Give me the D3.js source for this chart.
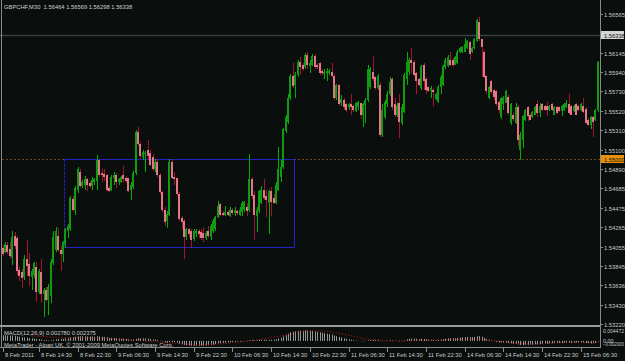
<!DOCTYPE html>
<html>
<head>
<meta charset="utf-8">
<script src="https://cdn.jsdelivr.net/npm/d3@7"></script>
<style>
  body { margin: 0; background: #0a0e0d; }
  svg { display: block; }
  text { font-family: "Liberation Sans", Arial, sans-serif; }
</style>
</head>
<body>
<div id="chart"></div>
<script>
// GBPCHF M30 bars (bar 0 = 8 Feb 07:00)
var opens = [
  1.5404,1.5400,1.5407,1.5403,1.5394,1.5417,1.5415,1.5380,1.5378,1.5373,
  1.5392,1.5387,1.5373,1.5375,1.5383,1.5356,1.5378,1.5354,1.5359,1.5348,
  1.5352,1.5388,1.5402,1.5417,1.5402,1.5397,1.5408,1.5422,1.5424,1.5457,
  1.5445,1.5467,1.5486,1.5471,1.5472,1.5478,1.5474,1.5471,1.5475,1.5476,
  1.5499,1.5485,1.5484,1.5483,1.5469,1.5467,1.5479,1.5483,1.5475,1.5475,
  1.5483,1.5480,1.5479,1.5467,1.5470,1.5485,1.5529,1.5516,1.5502,1.5505,
  1.5510,1.5506,1.5502,1.5489,1.5497,1.5483,1.5464,1.5445,1.5433,1.5440,
  1.5497,1.5481,1.5479,1.5462,1.5436,1.5433,1.5416,1.5424,1.5422,1.5414,
  1.5420,1.5422,1.5421,1.5420,1.5415,1.5422,1.5416,1.5422,1.5425,1.5437,
  1.5451,1.5442,1.5440,1.5443,1.5439,1.5445,1.5442,1.5444,1.5440,1.5443,
  1.5445,1.5448,1.5445,1.5478,1.5461,1.5438,1.5444,1.5453,1.5467,1.5460,
  1.5453,1.5465,1.5458,1.5453,1.5467,1.5481,1.5491,1.5530,1.5540,1.5566,
  1.5590,1.5580,1.5591,1.5605,1.5601,1.5599,1.5612,1.5600,1.5602,1.5611,
  1.5602,1.5604,1.5595,1.5592,1.5593,1.5593,1.5594,1.5590,1.5566,1.5580,
  1.5560,1.5564,1.5559,1.5556,1.5559,1.5557,1.5552,1.5556,1.5560,1.5548,
  1.5558,1.5564,1.5578,1.5594,1.5588,1.5577,1.5580,1.5526,1.5545,1.5559,
  1.5570,1.5586,1.5559,1.5547,1.5560,1.5539,1.5551,1.5586,1.5594,1.5607,
  1.5605,1.5593,1.5586,1.5577,1.5602,1.5586,1.5578,1.5573,1.5575,1.5565,
  1.5562,1.5578,1.5580,1.5599,1.5600,1.5607,1.5607,1.5602,1.5604,1.5615,
  1.5615,1.5616,1.5620,1.5626,1.5615,1.5620,1.5627,1.5648,1.5629,1.5616,
  1.5590,1.5566,1.5584,1.5575,1.5573,1.5562,1.5545,1.5559,1.5561,1.5567,
  1.5539,1.5548,1.5539,1.5556,1.5510,1.5521,1.5542,1.5556,1.5548,1.5545,
  1.5548,1.5559,1.5550,1.5559,1.5557,1.5557,1.5553,1.5559,1.5548,1.5556,
  1.5556,1.5552,1.5553,1.5556,1.5559,1.5557,1.5552,1.5559,1.5557,1.5553,
  1.5557,1.5554,1.5542,1.5537,1.5545,1.5542,1.5553
];
var highs = [
  1.5407,1.5410,1.5411,1.5411,1.5422,1.5421,1.5417,1.5383,1.5381,1.5396,
  1.5413,1.5399,1.5381,1.5389,1.5389,1.5381,1.5392,1.5361,1.5362,1.5365,
  1.5392,1.5422,1.5427,1.5426,1.5406,1.5412,1.5426,1.5430,1.5460,1.5460,
  1.5471,1.5491,1.5489,1.5477,1.5482,1.5480,1.5476,1.5481,1.5480,1.5504,
  1.5500,1.5489,1.5489,1.5484,1.5471,1.5483,1.5486,1.5485,1.5480,1.5482,
  1.5492,1.5482,1.5480,1.5475,1.5487,1.5531,1.5535,1.5518,1.5510,1.5509,
  1.5521,1.5510,1.5505,1.5500,1.5500,1.5485,1.5466,1.5448,1.5444,1.5500,
  1.5500,1.5486,1.5480,1.5464,1.5439,1.5435,1.5426,1.5426,1.5425,1.5424,
  1.5425,1.5424,1.5424,1.5427,1.5422,1.5428,1.5430,1.5435,1.5439,1.5455,
  1.5453,1.5444,1.5449,1.5445,1.5448,1.5447,1.5448,1.5445,1.5448,1.5455,
  1.5455,1.5453,1.5505,1.5481,1.5465,1.5448,1.5467,1.5471,1.5478,1.5467,
  1.5467,1.5470,1.5462,1.5475,1.5513,1.5499,1.5534,1.5547,1.5570,1.5592,
  1.5604,1.5594,1.5607,1.5610,1.5604,1.5614,1.5615,1.5607,1.5613,1.5613,
  1.5604,1.5605,1.5597,1.5597,1.5598,1.5597,1.5604,1.5592,1.5581,1.5581,
  1.5569,1.5566,1.5560,1.5560,1.5570,1.5558,1.5562,1.5563,1.5561,1.5561,
  1.5566,1.5601,1.5599,1.5611,1.5590,1.5592,1.5583,1.5559,1.5564,1.5573,
  1.5588,1.5589,1.5566,1.5560,1.5570,1.5559,1.5593,1.5615,1.5609,1.5620,
  1.5607,1.5594,1.5587,1.5602,1.5604,1.5588,1.5579,1.5579,1.5577,1.5571,
  1.5580,1.5591,1.5602,1.5609,1.5612,1.5616,1.5609,1.5611,1.5618,1.5621,
  1.5622,1.5631,1.5628,1.5627,1.5621,1.5631,1.5651,1.5653,1.5630,1.5618,
  1.5591,1.5579,1.5585,1.5576,1.5574,1.5564,1.5567,1.5568,1.5575,1.5569,
  1.5561,1.5550,1.5561,1.5558,1.5529,1.5548,1.5554,1.5557,1.5549,1.5552,
  1.5557,1.5564,1.5561,1.5560,1.5558,1.5562,1.5558,1.5560,1.5557,1.5557,
  1.5557,1.5558,1.5560,1.5564,1.5570,1.5558,1.5558,1.5560,1.5558,1.5560,
  1.5566,1.5556,1.5544,1.5546,1.5546,1.5554,1.5606
];
var lows = [
  1.5395,1.5399,1.5398,1.5392,1.5386,1.5403,1.5375,1.5368,1.5361,1.5370,
  1.5374,1.5363,1.5359,1.5372,1.5346,1.5354,1.5345,1.5330,1.5346,1.5332,
  1.5345,1.5386,1.5400,1.5400,1.5379,1.5389,1.5404,1.5415,1.5422,1.5443,
  1.5440,1.5463,1.5469,1.5469,1.5467,1.5465,1.5469,1.5467,1.5472,1.5467,
  1.5481,1.5475,1.5476,1.5465,1.5464,1.5466,1.5472,1.5469,1.5472,1.5474,
  1.5475,1.5474,1.5464,1.5456,1.5468,1.5483,1.5514,1.5500,1.5499,1.5486,
  1.5499,1.5492,1.5487,1.5486,1.5481,1.5462,1.5443,1.5428,1.5426,1.5438,
  1.5478,1.5472,1.5460,1.5433,1.5424,1.5392,1.5413,1.5416,1.5404,1.5412,
  1.5416,1.5415,1.5413,1.5411,1.5413,1.5415,1.5413,1.5420,1.5422,1.5436,
  1.5438,1.5438,1.5438,1.5438,1.5437,1.5440,1.5438,1.5440,1.5439,1.5438,
  1.5443,1.5438,1.5443,1.5457,1.5413,1.5421,1.5442,1.5451,1.5456,1.5437,
  1.5419,1.5438,1.5451,1.5451,1.5465,1.5475,1.5489,1.5528,1.5538,1.5564,
  1.5577,1.5566,1.5589,1.5591,1.5595,1.5597,1.5597,1.5593,1.5600,1.5597,
  1.5597,1.5591,1.5591,1.5586,1.5584,1.5591,1.5588,1.5564,1.5564,1.5557,
  1.5557,1.5553,1.5551,1.5553,1.5548,1.5551,1.5551,1.5553,1.5543,1.5535,
  1.5539,1.5562,1.5576,1.5584,1.5575,1.5575,1.5524,1.5524,1.5543,1.5556,
  1.5568,1.5553,1.5545,1.5545,1.5523,1.5537,1.5550,1.5580,1.5591,1.5593,
  1.5590,1.5570,1.5579,1.5575,1.5575,1.5570,1.5572,1.5566,1.5557,1.5564,
  1.5561,1.5570,1.5579,1.5597,1.5599,1.5600,1.5599,1.5601,1.5603,1.5614,
  1.5614,1.5615,1.5619,1.5607,1.5614,1.5619,1.5626,1.5627,1.5589,1.5587,
  1.5570,1.5565,1.5570,1.5564,1.5557,1.5550,1.5543,1.5553,1.5560,1.5548,
  1.5537,1.5541,1.5538,1.5514,1.5499,1.5512,1.5541,1.5541,1.5542,1.5544,
  1.5547,1.5545,1.5545,1.5552,1.5552,1.5546,1.5552,1.5552,1.5547,1.5549,
  1.5551,1.5546,1.5552,1.5555,1.5549,1.5547,1.5551,1.5547,1.5552,1.5552,
  1.5550,1.5538,1.5536,1.5532,1.5524,1.5541,1.5551
];
var closes = [
  1.5397,1.5408,1.5400,1.5395,1.5416,1.5406,1.5379,1.5374,1.5372,1.5392,
  1.5385,1.5374,1.5379,1.5388,1.5357,1.5379,1.5354,1.5359,1.5348,1.5362,
  1.5389,1.5416,1.5422,1.5402,1.5397,1.5410,1.5424,1.5428,1.5458,1.5445,
  1.5469,1.5489,1.5471,1.5475,1.5478,1.5472,1.5471,1.5477,1.5478,1.5499,
  1.5483,1.5483,1.5481,1.5467,1.5466,1.5481,1.5483,1.5475,1.5478,1.5481,
  1.5478,1.5476,1.5465,1.5472,1.5485,1.5529,1.5516,1.5503,1.5508,1.5507,
  1.5503,1.5494,1.5489,1.5497,1.5483,1.5464,1.5445,1.5432,1.5441,1.5497,
  1.5480,1.5478,1.5462,1.5435,1.5432,1.5416,1.5424,1.5419,1.5413,1.5422,
  1.5422,1.5419,1.5415,1.5415,1.5420,1.5417,1.5428,1.5433,1.5437,1.5449,
  1.5440,1.5440,1.5443,1.5440,1.5445,1.5442,1.5445,1.5442,1.5445,1.5453,
  1.5454,1.5444,1.5478,1.5460,1.5440,1.5445,1.5465,1.5467,1.5458,1.5456,
  1.5465,1.5454,1.5453,1.5472,1.5489,1.5491,1.5532,1.5545,1.5566,1.5590,
  1.5579,1.5591,1.5605,1.5599,1.5597,1.5612,1.5601,1.5604,1.5611,1.5599,
  1.5599,1.5593,1.5593,1.5594,1.5595,1.5595,1.5590,1.5566,1.5580,1.5559,
  1.5565,1.5556,1.5553,1.5559,1.5556,1.5553,1.5561,1.5562,1.5548,1.5559,
  1.5564,1.5597,1.5597,1.5586,1.5577,1.5590,1.5526,1.5553,1.5562,1.5570,
  1.5583,1.5556,1.5547,1.5557,1.5540,1.5556,1.5591,1.5605,1.5607,1.5604,
  1.5591,1.5584,1.5580,1.5600,1.5584,1.5575,1.5573,1.5577,1.5572,1.5570,
  1.5578,1.5589,1.5600,1.5607,1.5610,1.5602,1.5601,1.5610,1.5616,1.5620,
  1.5621,1.5624,1.5627,1.5613,1.5620,1.5629,1.5650,1.5629,1.5621,1.5589,
  1.5573,1.5578,1.5572,1.5567,1.5559,1.5553,1.5566,1.5566,1.5573,1.5550,
  1.5559,1.5543,1.5556,1.5521,1.5526,1.5546,1.5553,1.5546,1.5542,1.5551,
  1.5556,1.5550,1.5557,1.5553,1.5553,1.5553,1.5557,1.5553,1.5556,1.5550,
  1.5552,1.5557,1.5559,1.5561,1.5550,1.5548,1.5557,1.5548,1.5553,1.5559,
  1.5551,1.5539,1.5537,1.5545,1.5540,1.5553,1.5605
];

// MACD(12,26,9) main values per bar, and the signal line read at a few bars
var macd = [
  0.0024,0.0024,0.0023,0.0023,0.0023,0.0022,0.0020,0.0018,0.0016,0.0015,0.0014,0.0012,0.0011,
  0.0010,0.0008,0.0008,0.0006,0.0004,0.0003,0.0002,0.0003,0.0005,0.0007,0.0008,0.0008,0.0009,0.0011,0.0012,
  0.0015,0.0016,0.0018,0.0020,0.0020,0.0020,0.0020,0.0019,0.0019,0.0019,0.0018,0.0020,
  0.0019,0.0018,0.0017,0.0015,0.0013,0.0013,0.0012,0.0011,0.0010,0.0009,0.0009,0.0008,0.0006,0.0005,0.0005,
  0.0009,0.0011,0.0011,0.0011,0.0011,0.0010,0.0008,0.0006,0.0006,0.0004,0.0001,-0.0003,-0.0007,-0.0009,
  -0.0005,-0.0005,-0.0006,-0.0008,-0.0012,-0.0015,-0.0018,-0.0019,-0.0020,-0.0021,-0.0021,-0.0021,-0.0021,
  -0.0021,-0.0020,-0.0020,-0.0019,-0.0018,-0.0016,-0.0014,-0.0011,-0.0010,-0.0009,-0.0008,-0.0007,-0.0006,-0.0005,-0.0004,-0.0003,-0.0003,-0.0002,
  -0.0001,-0.0001,0.0003,0.0004,0.0003,0.0003,0.0004,0.0005,0.0005,0.0005,0.0005,0.0005,0.0005,0.0007,0.0010,0.0013,0.0019,0.0025,0.0031,0.0037,
  0.0039,0.0041,0.0043,0.0044,0.0044,0.0045,0.0044,0.0043,0.0043,0.0041,0.0039,0.0037,0.0035,0.0033,0.0031,0.0029,0.0027,0.0023,0.0020,0.0017,
  0.0014,0.0011,0.0009,0.0007,0.0005,0.0003,0.0002,0.0001,-0.0001,-0.0002,-0.0001,0.0002,0.0004,0.0005,0.0004,0.0005,-0.0001,-0.0001,-0.0001,0.0001,
  0.0003,0.0002,0.0000,0.0000,-0.0002,-0.0001,0.0003,0.0007,0.0009,0.0010,0.0010,0.0009,0.0008,0.0009,0.0008,0.0007,0.0006,0.0005,0.0004,0.0003,
  0.0004,0.0005,0.0007,0.0009,0.0011,0.0011,0.0011,0.0012,0.0013,0.0014,0.0015,0.0016,0.0017,0.0016,0.0016,0.0017,0.0020,0.0020,0.0018,0.0013,
  0.0008,0.0005,0.0002,-0.0001,-0.0004,-0.0007,-0.0007,-0.0008,-0.0008,-0.0010,-0.0011,-0.0012,-0.0012,-0.0016,-0.0018,-0.0018,-0.0017,-0.0017,-0.0016,-0.0016,
  -0.0015,-0.0015,-0.0014,-0.0013,-0.0013,-0.0012,-0.0011,-0.0011,-0.0010,-0.0010,-0.0009,-0.0009,-0.0008,-0.0008,-0.0008,-0.0008,-0.0007,-0.0007,-0.0007,-0.0006,
  -0.0007,-0.0009,-0.0010,-0.0011,-0.0011,-0.0009,-0.0003
];
var signalBars = [12, 27, 40, 54, 68, 82, 95, 109, 119, 127, 131, 144, 151, 159, 168, 178, 192, 198, 206, 213, 219, 233, 246];
var signalValues = [0.0022, 0.0013, 0.0011, 0.0004, -0.0009, -0.0016, -0.0009, 0.0011, 0.0029, 0.0043, 0.0043, 0.0022, 0.0007, 0.0000, 0.0000, 0.0004, 0.0007, 0.0007, -0.0004, -0.0011, -0.0014, -0.0007, -0.0007];

var priceTicks = [1.56565, 1.56145, 1.55940, 1.55730, 1.55520, 1.55310, 1.55100, 1.54890, 1.54685, 1.54475, 1.54265, 1.54055, 1.53845, 1.53636, 1.53430, 1.53220];
var timeBars = [0, 15, 31, 47, 63, 79, 95, 111, 127, 143, 159, 175, 191, 207, 223, 239];
var timeLabels = ["8 Feb 2011", "8 Feb 14:30", "8 Feb 22:30", "9 Feb 06:30", "9 Feb 14:30", "9 Feb 22:30",
  "10 Feb 06:30", "10 Feb 14:30", "10 Feb 22:30", "11 Feb 06:30", "11 Feb 14:30", "11 Feb 22:30",
  "14 Feb 06:30", "14 Feb 14:30", "14 Feb 22:30", "15 Feb 06:30"];
var lastPrice = 1.56338;
var levelPrice = 1.55000;
var boxBars = [25.5, 120.5];
var boxPrices = [1.5500, 1.5405];
var macdTicks = [0.004472, 0.00, -0.002000];

var width = 625, height = 361;
var plotRight = 600;

var svg = d3.select("#chart").append("svg")
    .attr("width", width)
    .attr("height", height)
    .style("background", "#0a0e0d");

var x = d3.scaleLinear().domain([0, opens.length - 1]).range([2.5, 597.8]);
var y = d3.scaleLinear().domain([1.53220, 1.56565]).range([324, 14]);
var ym = d3.scaleLinear().domain([-0.002, 0.004472]).range([345.5, 330.5]);

// current price line and the 1.55000 level
svg.append("line")
    .attr("x1", 0).attr("x2", plotRight)
    .attr("y1", Math.round(y(lastPrice)) + 0.5).attr("y2", Math.round(y(lastPrice)) + 0.5)
    .style("stroke", "#3a3f43").style("stroke-width", 1.5);

svg.append("line")
    .attr("x1", 2).attr("x2", plotRight)
    .attr("y1", Math.round(y(levelPrice)) + 0.5).attr("y2", Math.round(y(levelPrice)) + 0.5)
    .style("stroke", "#7a4416").style("stroke-dasharray", "2,2");

// blue rectangle drawn on the chart
var bx0 = Math.round(x(boxBars[0])) + 0.5, bx1 = Math.round(x(boxBars[1])) + 0.5;
var by0 = Math.round(y(boxPrices[0])) + 0.5, by1 = Math.round(y(boxPrices[1])) + 0.5;
svg.append("path")
    .attr("d", "M" + bx0 + "," + by0 + "H" + bx1 + "V" + by1 + "H" + bx0)
    .style("fill", "none").style("stroke", "#2222c0");
svg.append("line")
    .attr("x1", bx0).attr("x2", bx0).attr("y1", by0).attr("y2", by1)
    .style("stroke", "#2222c0").style("stroke-dasharray", "3,1");

// candles
var bars = d3.range(opens.length);
var candle = svg.append("g").selectAll("g")
    .data(bars)
    .enter()
    .append("g");

candle.append("rect")
    .attr("x", function (i) { return Math.round(x(i)); })
    .attr("y", function (i) { return Math.round(y(highs[i])); })
    .attr("width", 1)
    .attr("height", function (i) { return Math.max(1, Math.round(y(lows[i])) - Math.round(y(highs[i]))); })
    .style("fill", function (i) { return closes[i] >= opens[i] ? "#00b000" : "#a3122e"; });

candle.append("rect")
    .attr("x", function (i) { return Math.round(x(i)) - 1; })
    .attr("y", function (i) { return Math.round(y(Math.max(opens[i], closes[i]))); })
    .attr("width", 2)
    .attr("height", function (i) { return Math.max(1, Math.round(y(Math.min(opens[i], closes[i]))) - Math.round(y(Math.max(opens[i], closes[i])))); })
    .style("fill", function (i) { return closes[i] >= opens[i] ? "#139a13" : "#e57687"; });

// price axis
svg.append("line")
    .attr("x1", plotRight + 0.5).attr("x2", plotRight + 0.5)
    .attr("y1", 0).attr("y2", 348)
    .style("stroke", "#8a8a8a");
svg.append("line")
    .attr("x1", 1.5).attr("x2", 1.5)
    .attr("y1", 0).attr("y2", 348)
    .style("stroke", "#8a8a8a");

var ticks = svg.append("g").selectAll("g")
    .data(priceTicks)
    .enter()
    .append("g")
    .attr("transform", function (d) { return "translate(0," + Math.round(y(d)) + ")"; });
ticks.append("line")
    .attr("x1", plotRight).attr("x2", plotRight + 3)
    .attr("y1", 0.5).attr("y2", 0.5)
    .style("stroke", "#8a8a8a");
ticks.append("text")
    .attr("x", 604).attr("y", 2.5)
    .style("font-size", "5.8px").style("fill", "#c8c8c8")
    .text(function (d) { return d3.format(".5f")(d); });

// highlighted labels on the axis
function axisBox(price, bg, fg) {
    var yy = Math.round(y(price));
    svg.append("rect")
        .attr("x", plotRight + 1).attr("y", yy - 4)
        .attr("width", 23).attr("height", 8)
        .style("fill", bg);
    svg.append("text")
        .attr("x", 604).attr("y", yy + 2.5)
        .style("font-size", "5.8px").style("fill", fg)
        .text(d3.format(".5f")(price));
}
axisBox(lastPrice, "#d4d4d4", "#111");
axisBox(levelPrice, "#e8900c", "#111");

// header
svg.append("text")
    .attr("x", 4).attr("y", 9)
    .style("font-size", "5.8px").style("fill", "#d0d0d0")
    .attr("xml:space", "preserve")
    .text("GBPCHF,M30  1.56464 1.56569 1.56298 1.56338");

// MACD panel
svg.append("rect")
    .attr("x", 0).attr("y", 325)
    .attr("width", plotRight).attr("height", 2)
    .style("fill", "#9c9c9c");

svg.append("g").selectAll("line")
    .data(bars)
    .enter()
    .append("line")
    .attr("x1", function (i) { return Math.round(x(i)) + 0.5; })
    .attr("x2", function (i) { return Math.round(x(i)) + 0.5; })
    .attr("y1", ym(0))
    .attr("y2", function (i) { return ym(macd[i]); })
    .style("stroke", "#bdbdbd")
    .style("stroke-width", 0.8);

svg.append("path")
    .datum(d3.range(signalBars.length))
    .attr("d", d3.line()
        .curve(d3.curveMonotoneX)
        .x(function (k) { return x(signalBars[k]); })
        .y(function (k) { return ym(signalValues[k]); }))
    .style("fill", "none")
    .style("stroke", "#e01818")
    .style("stroke-width", 0.9)
    .style("stroke-dasharray", "1,2");

svg.append("text")
    .attr("x", 4).attr("y", 335)
    .style("font-size", "5.8px").style("fill", "#d0d0d0")
    .text("MACD(12,26,9) 0.002780 0.002375");
svg.append("text")
    .attr("x", 4).attr("y", 346.5)
    .style("font-size", "5.8px").style("fill", "#d0d0d0")
    .text("MetaTrader - Alpari UK, \u00a9 2001-2009 MetaQuotes Software Corp.");

svg.append("g").selectAll("text")
    .data(macdTicks)
    .enter()
    .append("text")
    .attr("x", 603)
    .attr("y", function (d) { return d < 0 ? ym(d) + 0.5 : ym(d) + 2.5; })
    .attr("textLength", function (d) { return d === 0 ? null : 21; })
    .attr("lengthAdjust", "spacingAndGlyphs")
    .style("font-size", "5.4px").style("fill", "#c8c8c8")
    .text(function (d) { return d === 0 ? "0.00" : d3.format(".6f")(d); });

// time axis
svg.append("line")
    .attr("x1", 0).attr("x2", plotRight + 1)
    .attr("y1", 347.5).attr("y2", 347.5)
    .style("stroke", "#8a8a8a");

var tt = svg.append("g").selectAll("g")
    .data(timeBars)
    .enter()
    .append("g")
    .attr("transform", function (d) { return "translate(" + Math.round(x(d)) + ",0)"; });
tt.append("line")
    .attr("x1", 0.5).attr("x2", 0.5)
    .attr("y1", 348).attr("y2", 352)
    .style("stroke", "#8a8a8a");
tt.append("text")
    .attr("x", 2).attr("y", 356.5)
    .style("font-size", "5.8px").style("fill", "#c8c8c8")
    .text(function (d, i) { return timeLabels[i]; });
</script>
</body>
</html>
